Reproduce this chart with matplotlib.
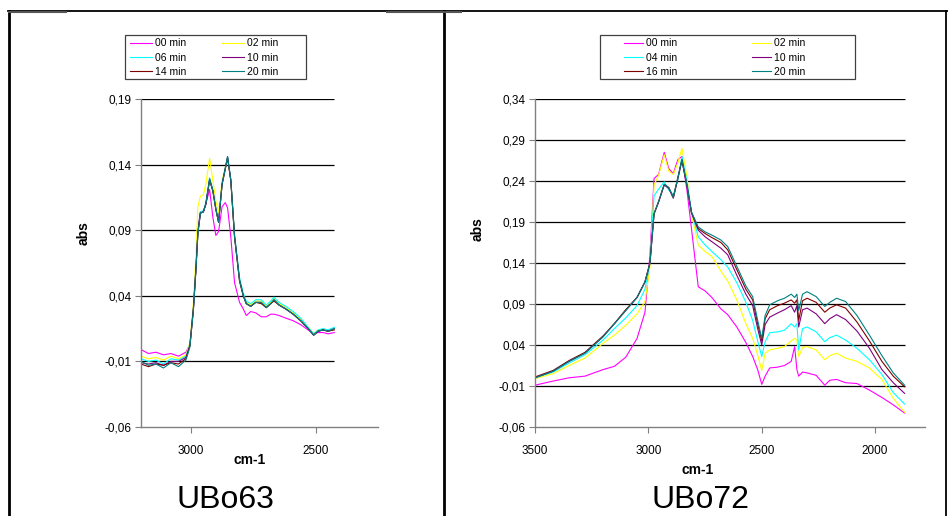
import matplotlib
matplotlib.use("Agg")
import matplotlib.pyplot as plt
from matplotlib.lines import Line2D
from matplotlib.patches import Rectangle

plt.rcParams['font.family'] = ['Liberation Sans', 'DejaVu Sans']

# ---- UBo63 (left) ----
wn_63 = [3200, 3170, 3140, 3110, 3080, 3050, 3020, 3004, 2990, 2980, 2972, 2962,
         2950, 2940, 2925, 2912, 2900, 2889, 2875, 2862, 2853, 2840, 2825, 2805,
         2790, 2778, 2760, 2740, 2718, 2698, 2680, 2667, 2647, 2620, 2590, 2560,
         2530, 2508, 2490, 2470, 2450, 2425]
u63_00 = [-0.001, -0.004, -0.003, -0.005, -0.004, -0.006, -0.003, 0.003, 0.030, 0.060, 0.090, 0.104,
          0.104, 0.110, 0.121, 0.100, 0.086, 0.089, 0.108, 0.111, 0.107, 0.085, 0.050, 0.035,
          0.030, 0.025, 0.028, 0.027, 0.024, 0.024, 0.026, 0.026, 0.025, 0.023, 0.021, 0.018,
          0.014, 0.011, 0.012, 0.012, 0.011, 0.012]
u63_02 = [-0.006, -0.008, -0.007, -0.009, -0.006, -0.008, -0.005, 0.004, 0.035, 0.070, 0.108, 0.116,
          0.117, 0.125, 0.145, 0.128, 0.112, 0.103, 0.128, 0.138, 0.145, 0.128, 0.086, 0.053,
          0.041, 0.035, 0.033, 0.036, 0.036, 0.032, 0.035, 0.038, 0.034, 0.031, 0.027, 0.022,
          0.016, 0.011, 0.014, 0.014, 0.013, 0.015]
u63_06 = [-0.008, -0.010, -0.009, -0.012, -0.008, -0.009, -0.006, 0.003, 0.031, 0.062, 0.089, 0.104,
          0.105, 0.111, 0.130, 0.121, 0.107, 0.097, 0.126, 0.138, 0.146, 0.129, 0.087, 0.054,
          0.042, 0.036, 0.034, 0.037, 0.037, 0.033, 0.036, 0.039, 0.035, 0.032, 0.028, 0.023,
          0.016, 0.011, 0.014, 0.015, 0.014, 0.016]
u63_10 = [-0.011, -0.012, -0.011, -0.013, -0.010, -0.010, -0.007, 0.002, 0.030, 0.060, 0.088, 0.103,
          0.104, 0.110, 0.129, 0.120, 0.106, 0.096, 0.125, 0.137, 0.146, 0.128, 0.085, 0.052,
          0.040, 0.034, 0.032, 0.035, 0.035, 0.031, 0.034, 0.037, 0.033, 0.030, 0.026, 0.021,
          0.015, 0.010, 0.013, 0.014, 0.013, 0.015]
u63_14 = [-0.012, -0.014, -0.012, -0.013, -0.011, -0.012, -0.008, 0.002, 0.030, 0.060, 0.088, 0.103,
          0.104, 0.110, 0.128, 0.120, 0.106, 0.096, 0.125, 0.137, 0.145, 0.128, 0.085, 0.051,
          0.040, 0.034, 0.032, 0.035, 0.034, 0.031, 0.034, 0.036, 0.033, 0.030, 0.026, 0.021,
          0.015, 0.010, 0.013, 0.014, 0.013, 0.014]
u63_20 = [-0.010, -0.013, -0.012, -0.015, -0.011, -0.014, -0.009, 0.001, 0.029, 0.059, 0.087, 0.103,
          0.104, 0.110, 0.129, 0.120, 0.106, 0.096, 0.125, 0.137, 0.146, 0.128, 0.085, 0.052,
          0.040, 0.034, 0.032, 0.035, 0.035, 0.031, 0.034, 0.037, 0.033, 0.030, 0.026, 0.021,
          0.015, 0.010, 0.013, 0.014, 0.013, 0.015]
labels_63 = ['00 min', '02 min', '06 min', '10 min', '14 min', '20 min']

# ---- UBo72 (right) ----
wn_72 = [3500, 3420, 3350, 3280, 3200, 3150, 3100, 3050, 3015, 2993, 2975, 2955,
         2930, 2910, 2890, 2870, 2852, 2830, 2810, 2780, 2750, 2720, 2680, 2650,
         2610, 2570, 2540, 2518, 2500, 2485, 2465, 2430, 2400, 2370, 2355, 2345,
         2337, 2320, 2300, 2260, 2222, 2200, 2170, 2130, 2080, 2025, 1970, 1920, 1870]
u72_00 = [-0.009, -0.004, 0.000, 0.002, 0.010, 0.014, 0.025, 0.048, 0.080, 0.150, 0.243, 0.248,
          0.275, 0.255, 0.249, 0.266, 0.270, 0.229, 0.182, 0.111, 0.106, 0.098, 0.084, 0.077,
          0.062, 0.043, 0.026, 0.010, -0.008, 0.002, 0.012, 0.013, 0.015, 0.020, 0.038, 0.010,
          0.002, 0.007, 0.006, 0.003, -0.009, -0.003, -0.002, -0.006, -0.007, -0.015, -0.024, -0.033, -0.043]
u72_02 = [-0.001, 0.005, 0.015, 0.024, 0.042, 0.052, 0.064, 0.078, 0.093, 0.135, 0.235, 0.247,
          0.272, 0.252, 0.248, 0.262, 0.280, 0.245, 0.200, 0.162, 0.154, 0.148, 0.130, 0.118,
          0.095, 0.066, 0.048, 0.028, 0.009, 0.030, 0.034, 0.036, 0.038, 0.045, 0.048, 0.046,
          0.026, 0.037, 0.038, 0.034, 0.022, 0.027, 0.030, 0.024, 0.020, 0.012, -0.002, -0.025, -0.042]
u72_04 = [0.000, 0.007, 0.018, 0.028, 0.046, 0.060, 0.073, 0.088, 0.108, 0.140, 0.222, 0.230,
          0.239, 0.229, 0.223, 0.241, 0.270, 0.240, 0.203, 0.172, 0.162, 0.154, 0.144, 0.135,
          0.116, 0.092, 0.070, 0.045, 0.026, 0.044, 0.055, 0.056, 0.058, 0.066, 0.062, 0.066,
          0.034, 0.060, 0.062, 0.056, 0.044, 0.049, 0.052, 0.046, 0.036, 0.022, 0.004, -0.018, -0.032]
u72_10 = [0.000, 0.008, 0.020, 0.030, 0.050, 0.066, 0.082, 0.098, 0.117, 0.140, 0.200, 0.214,
          0.235, 0.231, 0.219, 0.243, 0.265, 0.234, 0.201, 0.180, 0.172, 0.166, 0.158, 0.150,
          0.125, 0.102, 0.088, 0.060, 0.040, 0.065, 0.074, 0.079, 0.083, 0.088, 0.080, 0.088,
          0.062, 0.083, 0.085, 0.078, 0.066, 0.072, 0.077, 0.071, 0.057, 0.036, 0.010, -0.006, -0.019]
u72_16 = [0.001, 0.009, 0.021, 0.031, 0.051, 0.066, 0.083, 0.098, 0.117, 0.140, 0.200, 0.215,
          0.236, 0.232, 0.220, 0.244, 0.266, 0.235, 0.202, 0.182, 0.176, 0.171, 0.165, 0.156,
          0.132, 0.108, 0.095, 0.066, 0.045, 0.072, 0.083, 0.088, 0.091, 0.095, 0.091, 0.095,
          0.070, 0.094, 0.097, 0.092, 0.080, 0.085, 0.089, 0.085, 0.068, 0.045, 0.020, 0.002, -0.011]
u72_20 = [0.000, 0.008, 0.020, 0.030, 0.050, 0.066, 0.082, 0.098, 0.117, 0.140, 0.200, 0.215,
          0.236, 0.232, 0.220, 0.244, 0.266, 0.235, 0.202, 0.184, 0.178, 0.174, 0.168, 0.160,
          0.136, 0.112, 0.099, 0.070, 0.048, 0.076, 0.089, 0.094, 0.097, 0.102, 0.098, 0.102,
          0.082, 0.102, 0.105, 0.099, 0.087, 0.092, 0.097, 0.093, 0.076, 0.052, 0.027, 0.006, -0.009]
labels_72 = ['00 min', '02 min', '04 min', '10 min', '16 min', '20 min']

colors = ['#ff00ff', '#ffff00', '#00ffff', '#800080', '#800000', '#008080']

yticks_63 = [-0.06, -0.01, 0.04, 0.09, 0.14, 0.19]
yticks_72 = [-0.06, -0.01, 0.04, 0.09, 0.14, 0.19, 0.24, 0.29, 0.34]
xticks_63 = [3000, 2500]
xticks_72 = [3500, 3000, 2500, 2000]

fig = plt.figure(figsize=(9.48, 5.16), dpi=100)
W, H = 948, 516


def panel(rect, wn, series, labels, yticks, xticks, xlim,
          leg_box, leg_anchor, hlen, cspace, xl_pos, yl_pos):
    ax = fig.add_axes(rect)
    for y, c, lab in zip(series, colors, labels):
        ax.plot(wn, y, color=c, lw=0.8, label=lab)
    # gridlines only over the data range
    ax.hlines(yticks[1:], wn[0], wn[-1], colors='black', lw=0.9, zorder=0)
    ax.set_xlim(*xlim)
    ax.set_ylim(yticks[0], yticks[-1])
    ax.set_yticks(yticks)
    ax.set_yticklabels([f"{v:.2f}".replace('.', ',') for v in yticks])
    ax.set_xticks(xticks)
    ax.set_xticklabels([str(v) for v in xticks])
    for s in ['top', 'right']:
        ax.spines[s].set_visible(False)
    for s in ['left', 'bottom']:
        ax.spines[s].set_color('#808080')
        ax.spines[s].set_linewidth(1.0)
    ax.tick_params(axis='both', direction='out', length=4, width=0.8,
                   color='#808080', labelsize=8.5, pad=3)
    ax.tick_params(axis='x', pad=9)
    ax.set_xlabel('cm-1', fontsize=10, fontweight='bold')
    ax.set_ylabel('abs', fontsize=10, fontweight='bold')
    ax.xaxis.set_label_coords(*xl_pos)
    ax.yaxis.set_label_coords(*yl_pos)

    # legend box, then the entries inside it
    x0, y0, x1, y1 = leg_box
    fig.add_artist(Rectangle((x0 / W, 1 - y1 / H), (x1 - x0) / W, (y1 - y0) / H,
                             transform=fig.transFigure, fill=False,
                             edgecolor='#404040', lw=0.9))
    h, l = ax.get_legend_handles_labels()
    order = [0, 2, 4, 1, 3, 5]
    fig.legend([h[i] for i in order], [l[i] for i in order],
               bbox_to_anchor=(leg_anchor[0] / W, 1 - leg_anchor[1] / H),
               loc='upper left', ncol=2, fontsize=7.5, frameon=False,
               handlelength=hlen, handletextpad=0.3, borderaxespad=0,
               labelspacing=0.4, borderpad=0, columnspacing=cspace)
    return ax


panel([141 / W, 1 - 427 / H, 237 / W, 328 / H], wn_63,
      [u63_00, u63_02, u63_06, u63_10, u63_14, u63_20], labels_63,
      yticks_63, xticks_63, (3200, 2250),
      (125, 35, 306, 79), (130, 38.5), 2.1, 3.4, (0.46, -0.079), (-0.211, 0.59))

panel([535 / W, 1 - 427 / H, 390 / W, 328 / H], wn_72,
      [u72_00, u72_02, u72_04, u72_10, u72_16, u72_20], labels_72,
      yticks_72, xticks_72, (3500, 1780),
      (600, 35, 855, 79), (624, 38.5), 1.8, 7.2, (0.418, -0.11), (-0.128, 0.604))

# table borders around the two panels
def fline(x0, y0, x1, y1, lw=1.5, c='black'):
    fig.add_artist(Line2D([x0 / W, x1 / W], [1 - y0 / H, 1 - y1 / H], color=c, lw=lw))

fline(8, 11, 948, 11, lw=1.3)
fline(9, 11, 9, 516, lw=2.0)
fline(444, 11, 444, 516, lw=2.0)
fline(946, 11, 946, 516, lw=1.3)
fline(9, 12, 66, 12, lw=1.5, c='#555555')
fline(387, 12, 461, 12, lw=1.5, c='#555555')

fig.text(225 / W, 1 - 500 / H, 'UBo63', fontsize=23, ha='center', va='center')
fig.text(700 / W, 1 - 500 / H, 'UBo72', fontsize=23, ha='center', va='center')

fig.savefig('out.png', dpi=100)
